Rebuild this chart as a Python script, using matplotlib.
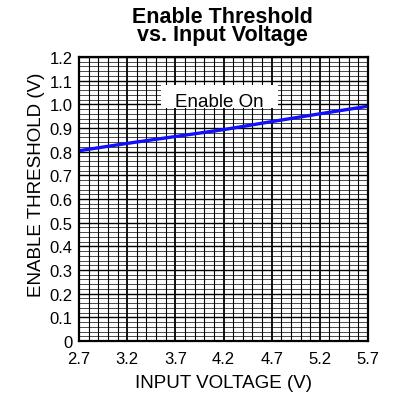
import matplotlib
matplotlib.use("Agg")
import matplotlib.pyplot as plt
import numpy as np
from matplotlib.patches import Rectangle

plt.rcParams['font.family'] = ['Liberation Sans', 'DejaVu Sans']

input_voltage = [2.7, 3.2, 3.7, 4.2, 4.7, 5.2, 5.7]
enable_threshold = [0.804, 0.835, 0.864, 0.893, 0.927, 0.960, 0.992]
x_ticks = [2.7, 3.2, 3.7, 4.2, 4.7, 5.2, 5.7]
x_tick_labels = ["2.7", "3.2", "3.7", "4.2", "4.7", "5.2", "5.7"]
y_ticks = [0, 0.1, 0.2, 0.3, 0.4, 0.5, 0.6, 0.7, 0.8, 0.9, 1.0, 1.1, 1.2]
y_tick_labels = ["0", "0.1", "0.2", "0.3", "0.4", "0.5", "0.6", "0.7", "0.8", "0.9", "1.0", "1.1", "1.2"]

fig = plt.figure(figsize=(4.02, 4.02), dpi=100)
W = H = 402
ax = fig.add_axes([79 / W, 1 - 342 / H, (368 - 79) / W, (342 - 58) / H])

ax.set_xlim(2.7, 5.7)
ax.set_ylim(0, 1.2)

# grid lines
for v in np.arange(2.7, 5.7001, 0.1):
    major = abs(((v - 2.7) / 0.5) - round((v - 2.7) / 0.5)) < 1e-6
    ax.axvline(v, color='black', lw=1.3 if major else 0.8, zorder=1)
for v in np.arange(0, 1.2001, 0.02):
    major = abs((v / 0.1) - round(v / 0.1)) < 1e-6
    ax.axhline(v, color='black', lw=1.0 if major else 0.5, zorder=1)

ax.plot(input_voltage, enable_threshold, color='#1010ff', lw=2.4, zorder=3)

# label box
ax.add_patch(Rectangle((3.551, 0.984), 4.766 - 3.551, 1.082 - 0.984,
                       facecolor='white', edgecolor='none', zorder=4))
ax.text(4.16, 0.993, "Enable On", ha='center', va='baseline', fontsize=13.5, zorder=5)

ax.set_xticks(x_ticks)
ax.set_xticklabels(x_tick_labels)
ax.set_yticks(y_ticks)
ax.set_yticklabels(y_tick_labels)
ax.tick_params(axis='both', length=0, labelsize=12)
ax.tick_params(axis='y', pad=4.5)
ax.tick_params(axis='x', pad=7.5)

for s in ax.spines.values():
    s.set_linewidth(1.6)
    s.set_zorder(6)

ax.set_xlabel("INPUT VOLTAGE (V)", fontsize=13.5, labelpad=5.5)
ax.set_ylabel("ENABLE THRESHOLD (V)", fontsize=13.5)
ax.yaxis.set_label_coords(-34 / 289, (342 - 185) / 284)

fig.text(222 / W, 1 - 41 / H, "Enable Threshold\nvs. Input Voltage", ha='center',
         va='baseline', fontsize=15.5, fontweight='bold', linespacing=0.8)

fig.savefig("out.png", dpi=100)
